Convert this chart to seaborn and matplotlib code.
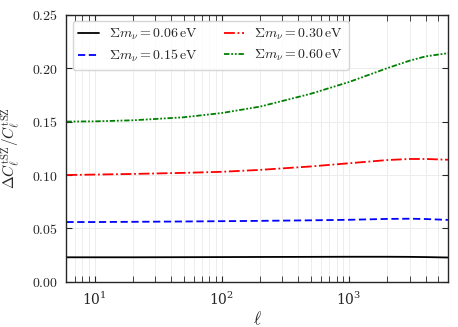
import matplotlib
matplotlib.use("Agg")
import matplotlib.pyplot as plt
import numpy as np
import pandas as pd
import seaborn as sns

# multipoles and fractional tSZ change for each neutrino mass
ell = [6, 10, 20, 50, 100, 200, 500, 1000, 2000, 3000, 4000, 6000]
d_006 = [0.0230, 0.0230, 0.0230, 0.0231, 0.0232, 0.0233, 0.0234, 0.0235, 0.0235, 0.0234, 0.0232, 0.0228]
d_015 = [0.0560, 0.0560, 0.0562, 0.0565, 0.0568, 0.0571, 0.0576, 0.0581, 0.0589, 0.0591, 0.0588, 0.0580]
d_030 = [0.1000, 0.1004, 0.1010, 0.1020, 0.1030, 0.1048, 0.1080, 0.1110, 0.1140, 0.1150, 0.1150, 0.1143]
d_060 = [0.1500, 0.1502, 0.1512, 0.1540, 0.1580, 0.1640, 0.1760, 0.1870, 0.2000, 0.2070, 0.2110, 0.2140]

labels = [r"$\Sigma m_\nu = 0.06\,\mathrm{eV}$", r"$\Sigma m_\nu = 0.15\,\mathrm{eV}$",
          r"$\Sigma m_\nu = 0.30\,\mathrm{eV}$", r"$\Sigma m_\nu = 0.60\,\mathrm{eV}$"]
colors = ["black", "blue", "red", "green"]
styles = ["-", (0, (4, 2)), (0, (6, 1.5, 1, 1.5)), (0, (3, 1, 1, 1, 1, 1))]

df = pd.concat([pd.DataFrame({"ell": ell, "val": v, "mass": lab})
                for v, lab in zip([d_006, d_015, d_030, d_060], labels)])

sns.set_style("ticks")
plt.rcParams["font.family"] = ["serif"]
plt.rcParams["mathtext.fontset"] = "cm"
plt.rcParams["font.serif"] = ["DejaVu Serif"]

fig, ax = plt.subplots(figsize=(4.58, 3.27), dpi=100)
for lab, c, ls in zip(labels, colors, styles):
    sub = df[df["mass"] == lab]
    sns.lineplot(data=sub, x="ell", y="val", ax=ax, color=c, linestyle=ls,
                 linewidth=1.3, label=lab)

ax.set_xscale("log")
ax.set_xlim(6, 6000)
ax.set_ylim(0, 0.25)
yt = [0, 0.05, 0.10, 0.15, 0.20, 0.25]
ax.set_yticks(yt)
ax.set_yticklabels([r"$%.2f$" % t for t in yt])
ax.set_xlabel(r"$\ell$", fontsize=12.5, labelpad=2)
ax.set_ylabel(r"$\Delta C_\ell^{\rm tSZ}/C_\ell^{\rm tSZ}$", fontsize=11, labelpad=7)
ax.grid(True, which="both", color="0.93", linewidth=0.7)
ax.tick_params(which="both", direction="in", top=True, right=True, labelsize=10)
ax.tick_params(which="major", length=4.5, pad=6)
ax.tick_params(which="minor", length=4)
ax.legend(ncol=2, fontsize=10, loc="upper left", frameon=True, fancybox=True,
          handlelength=1.5, handletextpad=0.72, columnspacing=1.87,
          borderpad=0.4, borderaxespad=0.45, labelspacing=0.45)
for s in ax.spines.values():
    s.set_linewidth(1.0)

fig.subplots_adjust(left=0.145, right=0.978, top=0.955, bottom=0.138)
fig.savefig("out.png", dpi=100)
